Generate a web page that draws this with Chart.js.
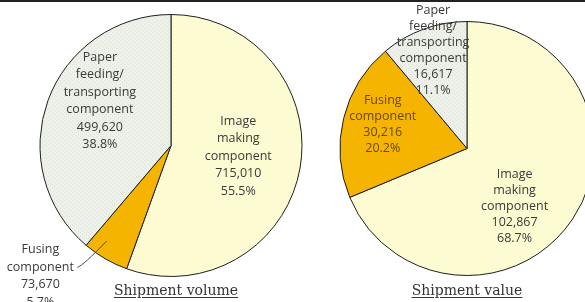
<!DOCTYPE html>
<html>
<head>
<meta charset="utf-8">
<script src="https://cdn.jsdelivr.net/npm/chart.js@4"></script>
<style>
  html, body { margin: 0; padding: 0; background: #fff; overflow: hidden; }
  #wrap { position: relative; width: 585px; height: 302px; overflow: hidden; }
  #wrap canvas { position: absolute; left: 0; top: 0; }
  .topline { position: absolute; left: 0; top: 0; width: 585px; height: 2px; background: #222; }
  .title {
    position: absolute; font-family: "DejaVu Serif", "Liberation Serif", serif; font-size: 14px;
    color: #333; text-decoration: underline; text-underline-offset: 2px; white-space: nowrap;
    transform: translateX(-50%);
  }
</style>
</head>
<body>
<div id="wrap">
  <canvas id="volumeChart" width="585" height="302"></canvas>
  <canvas id="valueChart" width="620" height="302"></canvas>
  <div class="topline"></div>
  <div class="title" style="left:176px; top:282px;">Shipment volume</div>
  <div class="title" style="left:467px; top:282px;">Shipment value</div>
</div>
<script>
// Datos
const categories = ["Image making component", "Fusing component", "Paper feeding/transporting component"];
const labelLines = [
  ["Image", "making", "component"],
  ["Fusing", "component"],
  ["Paper", "feeding/", "transporting", "component"]
];
const volumeValues = [715010, 73670, 499620];
const volumeShares = ["55.5%", "5.7%", "38.8%"];
const valueValues = [102867, 30216, 16617];
const valueShares = ["68.7%", "20.2%", "11.1%"];

// Patrón punteado para el segmento de alimentación de papel
function dotPattern() {
  const c = document.createElement("canvas");
  c.width = 4; c.height = 4;
  const g = c.getContext("2d");
  g.fillStyle = "#eef1ea";
  g.fillRect(0, 0, 4, 4);
  g.fillStyle = "#dde2d8";
  g.fillRect(0, 0, 1, 1);
  g.fillRect(2, 2, 1, 1);
  return g.createPattern(c, "repeat");
}

const sliceColors = ["#fdfbd2", "#f5b400", null];

// Etiquetas: ángulo (grados desde arriba, horario) y radio relativo
function labelPlugin(values, shares, places, lineH, textColors, leader) {
  return {
    id: "sliceLabels",
    afterDatasetsDraw(chart) {
      const ctx = chart.ctx;
      const arcs = chart.getDatasetMeta(0).data;
      ctx.save();
      ctx.font = "12.5px 'Open Sans', 'Noto Sans', sans-serif";
      ctx.textAlign = "center";
      ctx.textBaseline = "middle";
      arcs.forEach((arc, i) => {
        const { x, y, outerRadius } = arc.getProps(["x", "y", "outerRadius"], true);
        const a = places[i][0] * Math.PI / 180;
        const cx = x + Math.sin(a) * outerRadius * places[i][1];
        const cy = y - Math.cos(a) * outerRadius * places[i][1];
        const lines = labelLines[i].concat([values[i].toLocaleString("en-US"), shares[i]]);
        const top = cy - (lines.length - 1) * lineH / 2;
        ctx.fillStyle = textColors[i];
        lines.forEach((t, k) => ctx.fillText(t, cx, top + k * lineH));
        if (leader && leader.index === i) {
          const sx = cx + leader.from[0], sy = top + leader.from[1];
          const ea = leader.to[0] * Math.PI / 180;
          const ex = x + Math.sin(ea) * outerRadius * leader.to[1];
          const ey = y - Math.cos(ea) * outerRadius * leader.to[1];
          ctx.strokeStyle = "#3a4a5a";
          ctx.lineWidth = 1;
          ctx.beginPath();
          ctx.moveTo(sx, sy);
          ctx.quadraticCurveTo(sx + 6, sy - 2, ex, ey);
          ctx.stroke();
        }
      });
      ctx.restore();
    }
  };
}

function makePie(id, values, padding, plugin) {
  const colors = sliceColors.map(c => c || dotPattern());
  return new Chart(document.getElementById(id), {
    type: "pie",
    data: {
      labels: categories,
      datasets: [{
        data: values,
        backgroundColor: colors,
        borderColor: "#1e1e1e",
        borderWidth: 1
      }]
    },
    options: {
      responsive: false,
      animation: false,
      layout: { padding: padding },
      plugins: { legend: { display: false }, tooltip: { enabled: false } }
    },
    plugins: [plugin]
  });
}

makePie("volumeChart", volumeValues,
  { left: 39.5, right: 282.5, top: 14, bottom: 25 },
  labelPlugin(volumeValues, volumeShares, [[99, 0.52], [225, 1.41], [302, 0.64]], 17.5,
    ["#3a3a3a", "#3a3a3a", "#3a3a3a"],
    { index: 1, from: [37, 17.5], to: [214, 0.88] }));

makePie("valueChart", valueValues,
  { left: 339.5, right: 25.5, top: 21, bottom: 26 },
  labelPlugin(valueValues, valueShares, [[140.6, 0.59], [286, 0.69], [341, 0.82]], 16,
    ["#3a3a3a", "#6a4808", "#3a3a3a"], null));
</script>
</body>
</html>
